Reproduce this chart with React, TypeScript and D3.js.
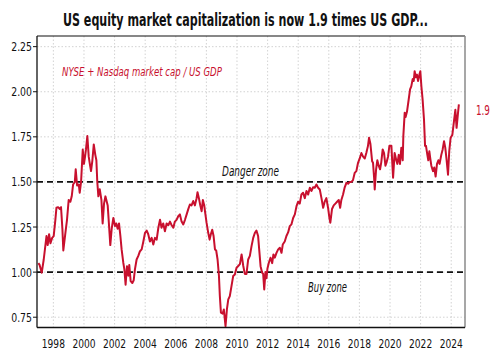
import React, { useLayoutEffect, useRef, useState } from "react";
import * as d3 from "d3";

const W = 497;
const H = 355;

const titleText = "US equity market capitalization is now 1.9 times US GDP...";
const seriesLabel = "NYSE + Nasdaq market cap / US GDP";
const lastLabel = "1.9";
const dangerLabel = "Danger zone";
const buyLabel = "Buy zone";
const dangerLevel = 1.5;
const buyLevel = 1.0;

const yTicks = [0.75, 1.0, 1.25, 1.5, 1.75, 2.0, 2.25];
const xTicks = [1998, 2000, 2002, 2004, 2006, 2008, 2010, 2012, 2014, 2016, 2018, 2020, 2022, 2024];

const years = [
  1997.02, 1997.1, 1997.24, 1997.37, 1997.55, 1997.63, 1997.72, 1997.81, 1997.92,
  1998.02, 1998.13, 1998.2, 1998.31, 1998.42, 1998.5, 1998.59, 1998.65, 1998.79, 1998.89,
  1999.0, 1999.11, 1999.2, 1999.29, 1999.4, 1999.46, 1999.55, 1999.66, 1999.72, 1999.81, 1999.92,
  2000.0, 2000.07, 2000.13, 2000.22, 2000.31, 2000.4, 2000.46, 2000.55, 2000.64, 2000.74, 2000.81, 2000.87, 2000.94,
  2001.03, 2001.14, 2001.22, 2001.31, 2001.4, 2001.55, 2001.64, 2001.72, 2001.81, 2001.92,
  2002.03, 2002.11, 2002.2, 2002.29, 2002.38, 2002.46, 2002.57, 2002.64, 2002.72, 2002.81, 2002.9, 2002.96,
  2003.05, 2003.16, 2003.25, 2003.33, 2003.44, 2003.55, 2003.66, 2003.77, 2003.88, 2003.99,
  2004.1, 2004.2, 2004.31, 2004.42, 2004.53, 2004.64, 2004.75, 2004.86, 2004.97,
  2005.07, 2005.18, 2005.29, 2005.4, 2005.51, 2005.62, 2005.73, 2005.84, 2005.94,
  2006.05, 2006.16, 2006.27, 2006.38, 2006.49, 2006.6, 2006.71, 2006.81, 2006.92,
  2007.03, 2007.14, 2007.25, 2007.36, 2007.42, 2007.51, 2007.6, 2007.69, 2007.77, 2007.86, 2007.92,
  2008.01, 2008.12, 2008.21, 2008.29, 2008.38, 2008.47, 2008.56, 2008.64, 2008.73, 2008.82, 2008.88, 2008.95,
  2009.06, 2009.14, 2009.25, 2009.34, 2009.43, 2009.53, 2009.64, 2009.75, 2009.86, 2009.97,
  2010.08, 2010.19, 2010.3, 2010.41, 2010.51, 2010.62, 2010.73, 2010.84, 2010.95,
  2011.06, 2011.17, 2011.27, 2011.38, 2011.45, 2011.54, 2011.64, 2011.71, 2011.78, 2011.86, 2011.93, 2011.99,
  2012.08, 2012.19, 2012.3, 2012.38, 2012.47, 2012.58, 2012.69, 2012.8, 2012.91, 2012.99,
  2013.12, 2013.23, 2013.34, 2013.45, 2013.56, 2013.67, 2013.78, 2013.89, 2013.99,
  2014.1, 2014.21, 2014.32, 2014.43, 2014.54, 2014.65, 2014.76, 2014.87, 2014.97,
  2015.08, 2015.19, 2015.3, 2015.41, 2015.52, 2015.63, 2015.73, 2015.84, 2015.95,
  2016.04, 2016.1, 2016.21, 2016.32, 2016.43, 2016.54, 2016.65, 2016.74, 2016.82, 2016.93,
  2017.04, 2017.15, 2017.26, 2017.37, 2017.48, 2017.58, 2017.69, 2017.8, 2017.91,
  2018.02, 2018.13, 2018.24, 2018.35, 2018.45, 2018.56, 2018.63, 2018.72, 2018.83, 2018.89, 2018.96,
  2019.0, 2019.09, 2019.17, 2019.26, 2019.35, 2019.43, 2019.52, 2019.61, 2019.7, 2019.78, 2019.87, 2019.96,
  2020.09, 2020.2, 2020.3, 2020.41, 2020.48, 2020.57, 2020.65, 2020.74, 2020.83, 2020.87, 2020.96,
  2021.02, 2021.11, 2021.22, 2021.31, 2021.39, 2021.48, 2021.55, 2021.61, 2021.68, 2021.76, 2021.83, 2021.92, 2021.98,
  2022.05, 2022.13, 2022.22, 2022.29, 2022.35, 2022.44, 2022.5, 2022.57, 2022.63, 2022.7, 2022.81, 2022.89, 2022.98,
  2023.07, 2023.16, 2023.24, 2023.35, 2023.44, 2023.53, 2023.61, 2023.7, 2023.79, 2023.87, 2023.96,
  2024.07, 2024.18, 2024.27, 2024.35, 2024.44, 2024.5,
];

const ratios = [
  1.05, 1.04, 0.997, 1.07, 1.2, 1.15, 1.21, 1.16, 1.19,
  1.2, 1.29, 1.357, 1.36, 1.35, 1.36, 1.24, 1.12, 1.22, 1.29,
  1.4, 1.39, 1.42, 1.486, 1.5, 1.57, 1.48, 1.486, 1.44, 1.5, 1.68,
  1.6, 1.64, 1.68, 1.754, 1.64, 1.59, 1.56, 1.62, 1.708, 1.65, 1.62, 1.5, 1.42,
  1.46, 1.4, 1.27, 1.38, 1.42, 1.37, 1.255, 1.15, 1.24, 1.3,
  1.255, 1.27, 1.24, 1.27, 1.2, 1.126, 1.052, 1.015, 0.93, 1.033, 0.98, 1.04,
  0.95, 0.94, 0.955, 1.015, 1.07, 1.09, 1.116, 1.126, 1.17, 1.218,
  1.23, 1.21, 1.17, 1.19, 1.153, 1.19, 1.18, 1.246, 1.29,
  1.246, 1.27, 1.227, 1.27, 1.26, 1.28, 1.26, 1.246, 1.28,
  1.29, 1.31, 1.32, 1.28, 1.264, 1.29, 1.32, 1.348, 1.375,
  1.37, 1.394, 1.37, 1.41, 1.443, 1.41, 1.37, 1.338, 1.4, 1.37, 1.33,
  1.274, 1.218, 1.18, 1.21, 1.235, 1.2, 1.126, 1.12, 1.07, 0.98, 0.867, 0.775,
  0.77, 0.793, 0.7, 0.793, 0.849, 0.867, 0.922, 0.978, 0.987, 1.024,
  1.034, 1.044, 1.098, 1.034, 0.99, 0.99, 1.07, 1.09, 1.144,
  1.19, 1.218, 1.23, 1.2, 1.126, 1.033, 0.997, 0.99, 0.904, 1.0, 0.966, 1.02,
  1.052, 1.08, 1.05, 1.098, 1.08, 1.107, 1.126, 1.135, 1.107, 1.153,
  1.17, 1.2, 1.22, 1.255, 1.265, 1.3, 1.32, 1.366, 1.39,
  1.38, 1.43, 1.44, 1.41, 1.45, 1.43, 1.468, 1.45, 1.47,
  1.468, 1.486, 1.468, 1.458, 1.41, 1.357, 1.39, 1.41, 1.357,
  1.3, 1.274, 1.35, 1.37, 1.38, 1.39, 1.4, 1.357, 1.4, 1.43,
  1.47, 1.495, 1.49, 1.5, 1.5, 1.51, 1.55, 1.56, 1.606,
  1.63, 1.66, 1.64, 1.63, 1.66, 1.7, 1.745, 1.71, 1.615, 1.606, 1.523,
  1.458, 1.57, 1.62, 1.59, 1.57, 1.61, 1.68, 1.66, 1.59, 1.61, 1.64, 1.7,
  1.7, 1.523, 1.66, 1.62, 1.6, 1.65, 1.6, 1.69, 1.62, 1.754, 1.884,
  1.86, 1.89, 1.957, 2.013, 2.03, 2.07, 2.06, 2.114, 2.08, 2.095, 2.06, 2.095, 2.114,
  2.03, 1.957, 1.846, 1.7, 1.7, 1.65, 1.62, 1.67, 1.63, 1.59, 1.56, 1.58, 1.53,
  1.6, 1.62, 1.6, 1.65, 1.68, 1.726, 1.69, 1.62, 1.54, 1.67, 1.745,
  1.76, 1.837, 1.9, 1.8, 1.88, 1.93,
];

const RED = "#c8102e";
const FONT = "'DejaVu Sans Condensed', 'Liberation Sans Narrow', sans-serif";

type FitProps = {
  x: number;
  y: number;
  w?: number;
  sx?: number;
  anchor?: "start" | "middle" | "end";
  size: number;
  weight?: string;
  italic?: boolean;
  fill: string;
  children: string;
};

function FitText({ x, y, w, sx = 0.8, anchor = "start", size, weight, italic, fill, children }: FitProps) {
  const ref = useRef<SVGTextElement>(null);
  const [scale, setScale] = useState(sx);
  useLayoutEffect(() => {
    if (w && ref.current) {
      const len = ref.current.getComputedTextLength();
      if (len > 0) setScale(w / len);
    }
  }, [w, children, size]);
  return (
    <text
      ref={ref}
      transform={`translate(${x},${y}) scale(${scale},1)`}
      textAnchor={anchor}
      fontSize={size}
      fontWeight={weight}
      fontStyle={italic ? "italic" : undefined}
      fill={fill}
    >
      {children}
    </text>
  );
}

export default function App() {
  const left = 37;
  const right = 465;
  const top = 36;
  const bottom = 327.5;

  const x = d3.scaleLinear().domain([1996.93, 2024.9]).range([left, right]);
  const y = d3.scaleLinear().domain([0.693, 2.309]).range([bottom, top]);

  const data = years.map((yr, i) => ({ yr, v: ratios[i] }));
  const line = d3
    .line<{ yr: number; v: number }>()
    .x((d) => x(d.yr))
    .y((d) => y(d.v));

  const last = data[data.length - 1];

  return (
    <svg
      width={W}
      height={H}
      style={{ position: "absolute", left: 0, top: 0, background: "#fff" }}
      fontFamily={FONT}
    >
      <rect x={0} y={0} width={W} height={H} fill="#fff" />
      <FitText x={245.5} y={26} w={365} anchor="middle" size={17.5} weight="bold" fill="#111">
        {titleText}
      </FitText>

      {/* grid */}
      {yTicks.map((t) => (
        <line
          key={"gy" + t}
          x1={left}
          x2={right}
          y1={y(t)}
          y2={y(t)}
          stroke="#c8c8c8"
          strokeWidth={0.8}
          strokeDasharray="1.5,2"
        />
      ))}
      {xTicks.map((t) => (
        <line
          key={"gx" + t}
          x1={x(t)}
          x2={x(t)}
          y1={top}
          y2={bottom}
          stroke="#c8c8c8"
          strokeWidth={0.8}
          strokeDasharray="1.5,2"
        />
      ))}

      {/* reference lines */}
      <line
        x1={left}
        x2={right}
        y1={y(dangerLevel)}
        y2={y(dangerLevel)}
        stroke="#111"
        strokeWidth={1.8}
        strokeDasharray="6,4"
      />
      <line
        x1={left}
        x2={right}
        y1={y(buyLevel)}
        y2={y(buyLevel)}
        stroke="#111"
        strokeWidth={1.8}
        strokeDasharray="6,4"
      />

      {/* series */}
      <path d={line(data) || ""} fill="none" stroke={RED} strokeWidth={2} strokeLinejoin="round" />

      {/* frame */}
      <line x1={left} x2={right} y1={top} y2={top} stroke="#111" strokeWidth={1.2} />
      <line x1={right} x2={right} y1={top} y2={bottom} stroke="#8a8a8a" strokeWidth={1.5} />
      <line x1={left} x2={left} y1={top} y2={bottom} stroke="#111" strokeWidth={1.3} />
      <line x1={left} x2={right} y1={bottom} y2={bottom} stroke="#111" strokeWidth={1.5} />

      {/* y axis ticks */}
      {yTicks.map((t) => (
        <g key={"ty" + t}>
          <line x1={left - 4} x2={left} y1={y(t)} y2={y(t)} stroke="#111" strokeWidth={1} />
          <FitText x={left - 5} y={y(t) + 4.5} sx={0.8} anchor="end" size={13} fill="#111">
            {d3.format(".2f")(t)}
          </FitText>
        </g>
      ))}

      {/* x axis labels */}
      {xTicks.map((t) => (
        <FitText key={"tx" + t} x={x(t)} y={347.5} sx={0.78} anchor="middle" size={13} fill="#111">
          {String(t)}
        </FitText>
      ))}

      {/* annotations */}
      <FitText x={62} y={75.5} w={160} size={13} italic fill={RED}>
        {seriesLabel}
      </FitText>
      <FitText x={222} y={175.5} w={57} size={13.5} italic fill="#111">
        {dangerLabel}
      </FitText>
      <FitText x={308} y={291.5} w={39} size={13.5} italic fill="#111">
        {buyLabel}
      </FitText>
      <FitText x={x(last.yr) + 17} y={y(1.9) + 5} w={14} size={14} fill={RED}>
        {lastLabel}
      </FitText>
    </svg>
  );
}
